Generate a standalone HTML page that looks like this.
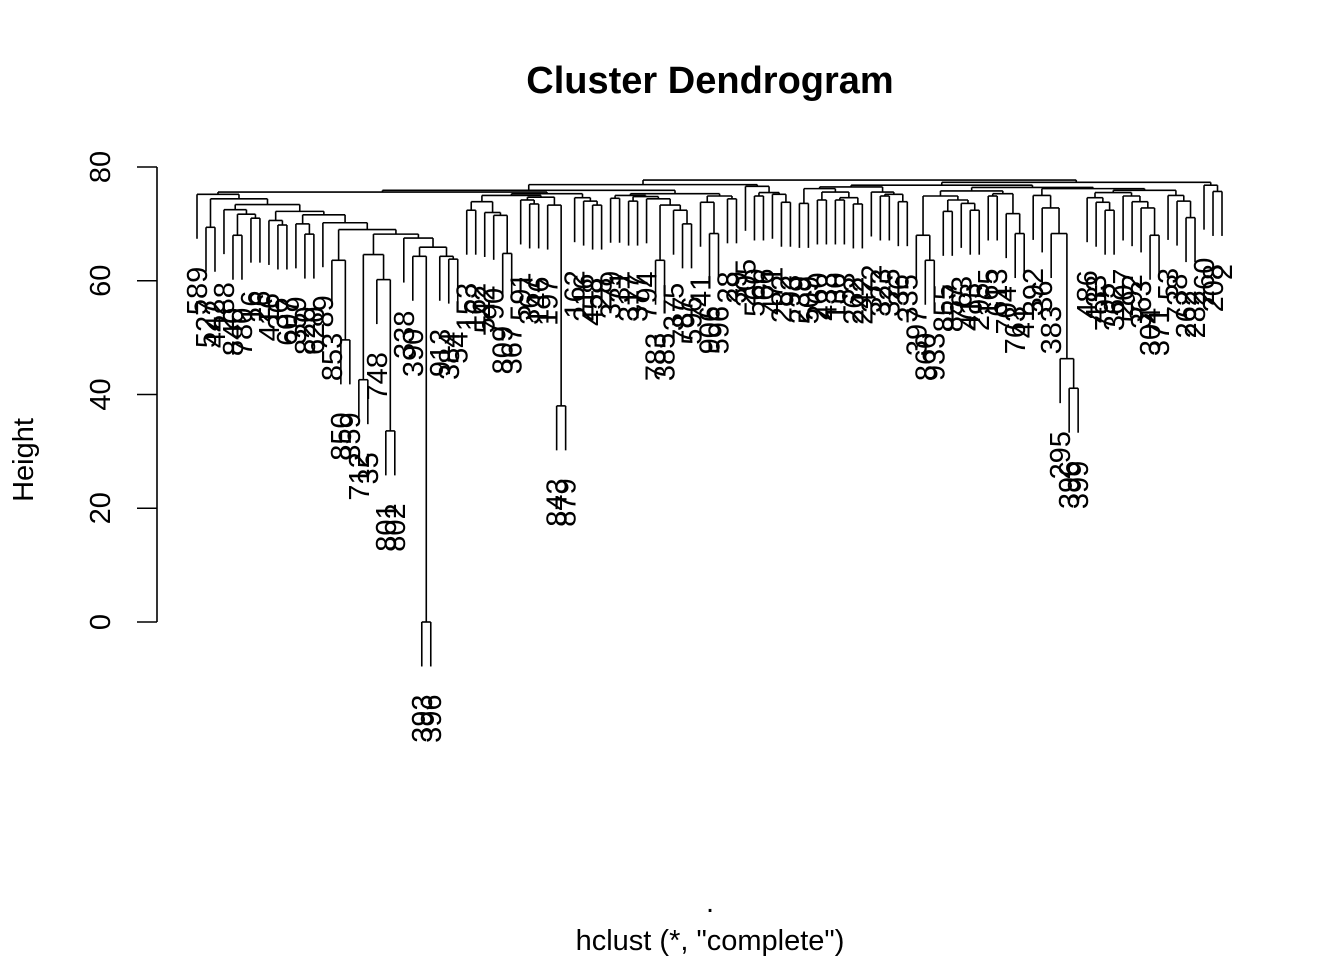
<!DOCTYPE html>
<html><head><meta charset="utf-8"><style>
html,body{margin:0;padding:0;background:#fff;}
svg{display:block;font-family:"Liberation Sans",Arial,sans-serif;}
</style></head><body>
<svg id="chart" width="1344" height="960" viewBox="0 0 1344 960">
<text x="710" y="93" text-anchor="middle" font-size="38" font-weight="bold">Cluster Dendrogram</text>
<text x="710" y="950" text-anchor="middle" font-size="29">hclust (*, "complete")</text>
<text x="710" y="912" text-anchor="middle" font-size="29">.</text>
<text transform="translate(33,460) rotate(-90)" text-anchor="middle" font-size="29">Height</text>
<g id="axis"></g>
<g id="tree"></g>
<g id="labels"></g>
</svg>
<script>
const yTicks = [0, 20, 40, 60, 80];
const hangHeight = 7.82;
// tree: [mergeHeight, left, right]; leaves are label strings
const X = [67.5,"338",[65.9,[64.3,"390",[0,"393","396"]],[64.3,"913",[63.8,"384","54"]]]];
const Y = [69.0,[63.6,"853",[49.6,"850","359"]],[68.2,[64.6,[42.6,"712","35"],[60.2,"748",[33.6,"801","802"]]],X]];
const G1 = [71.6,[70.0,"359",[68.2,"820","620"]],[70.2,"89",Y]];
const G2 = [72.2,[70.6,"416",[69.8,"36","607"]],G1];
const G3 = [73.4,[72.5,"288",[71.7,[68.0,"840","780"],[71.0,"16","26"]]],G2];
const L = [75.2,"589",[74.4,[69.4,"527","442"],G3]];
const M1 = [73.9,[72.4,"153","162"],[72.0,"542",[71.5,"790",[64.8,"809","367"]]]];
const M2 = [74.7,[74.2,"591",[73.5,"367","146"]],[73.3,"197",[38.0,"843","879"]]];
const M3 = [74.6,"162",[74.0,"216",[73.3,"458","28"]]];
const M4 = [75.0,[74.5,"379","31"],[74.8,[74.0,"317","377"],[74.4,"794",[73.3,[63.6,"783","385"],[72.4,"375",[70.0,"787","596"]]]]]];
const M5 = [74.9,[73.8,"741",[68.3,"906","596"]],[74.4,"28","39"]];
const N1 = [76.6,"205",[75.5,[74.9,"560","66"],[75.2,"471",[73.8,"282","93"]]]];
const N2 = [76.2,[73.6,"239","509"],[75.6,[74.2,"260","433"],[74.6,[74.2,"130","53"],[73.5,"262","242"]]]];
const N3 = [75.6,"372",[75.2,[74.9,"323","325"],[73.9,"36","335"]]];
const P1 = [74.9,[68.0,"397",[63.6,"860","933"]],[74.2,[72.2,"855","857"],[73.6,"763",[72.4,"413","295"]]]];
const P2 = [75.3,[74.9,"165","613"],[71.8,"704",[68.3,"763","41"]]];
const RA = [75.0,"392",[72.8,"36",[68.3,"383",[46.3,"295",[41.1,"396","399"]]]]];
const RB = [74.6,"486",[73.8,"433",[72.4,"795","362"]]];
const RC = [74.9,"207",[73.9,"592",[72.8,"363",[68.0,"304","371"]]]];
const RD = [75.0,"53",[74.0,"738",[71.1,"262","282"]]];
const RE = [76.8,"260",[75.7,"208","2"]];
const root = [77.7,
  [76.9,[75.9,[75.6,L,[75.3,[75.0,M1,M2],M3]],[75.3,M4,M5]],N1],
  [77.3,[76.8,[76.5,N2,N3],[76.4,[75.8,P1,P2],[76.2,RA,[75.9,[75.5,RB,RC],RD]]]],RE]];

const NS = "http://www.w3.org/2000/svg";
const y0 = 622, pxPerUnit = 5.6875;
function yScale(h){ return y0 - h*pxPerUnit; }
function countLeaves(n){ return typeof n === "string" ? 1 : countLeaves(n[1]) + countLeaves(n[2]); }
const nLeaves = countLeaves(root);
const xLeft = 197, xRight = 1222;
function xScale(i){ return xLeft + i*(xRight-xLeft)/(nLeaves-1); }

const axis = document.getElementById("axis");
const treeG = document.getElementById("tree");
const labG = document.getElementById("labels");

function mkLine(parent, x1, y1, x2, y2, name){
  const l = document.createElementNS(NS, "line");
  l.setAttribute("x1", x1); l.setAttribute("y1", y1);
  l.setAttribute("x2", x2); l.setAttribute("y2", y2);
  l.setAttribute("stroke", "#000"); l.setAttribute("stroke-width", "1.6");
  
  
  parent.appendChild(l);
  return l;
}

mkLine(axis, 157, yScale(yTicks[0]), 157, yScale(yTicks[yTicks.length-1]), "y-axis-line");
yTicks.forEach(t => {
  mkLine(axis, 137, yScale(t), 157, yScale(t), "y-tick");
  const tx = document.createElementNS(NS, "text");
  tx.setAttribute("transform", "translate(110," + yScale(t) + ") rotate(-90)");
  tx.setAttribute("text-anchor", "middle");
  tx.setAttribute("font-size", "29");
  tx.textContent = String(t);
  
  
  axis.appendChild(tx);
});

let leafIdx = 0;
function layout(node, parentH){
  if (typeof node === "string"){
    const x = xScale(leafIdx++);
    const yb = yScale(parentH - hangHeight);
    mkLine(treeG, x, yScale(parentH), x, yb, "leaf-branch");
    const tx = document.createElementNS(NS, "text");
    tx.setAttribute("transform", "translate(" + (x + 10) + "," + (yb + 28) + ") rotate(-90)");
    tx.setAttribute("text-anchor", "end");
    tx.setAttribute("font-size", "29");
    tx.textContent = node;
    
    
    labG.appendChild(tx);
    return {x: x};
  }
  const h = node[0];
  const a = layout(node[1], h);
  const b = layout(node[2], h);
  const yh = yScale(h);
  mkLine(treeG, a.x, yh, b.x, yh, "merge-bar");
  const x = (a.x + b.x)/2;
  if (parentH !== null) mkLine(treeG, x, yh, x, yScale(parentH), "branch");
  return {x: x};
}
layout(root, null);
</script>
</body></html>
